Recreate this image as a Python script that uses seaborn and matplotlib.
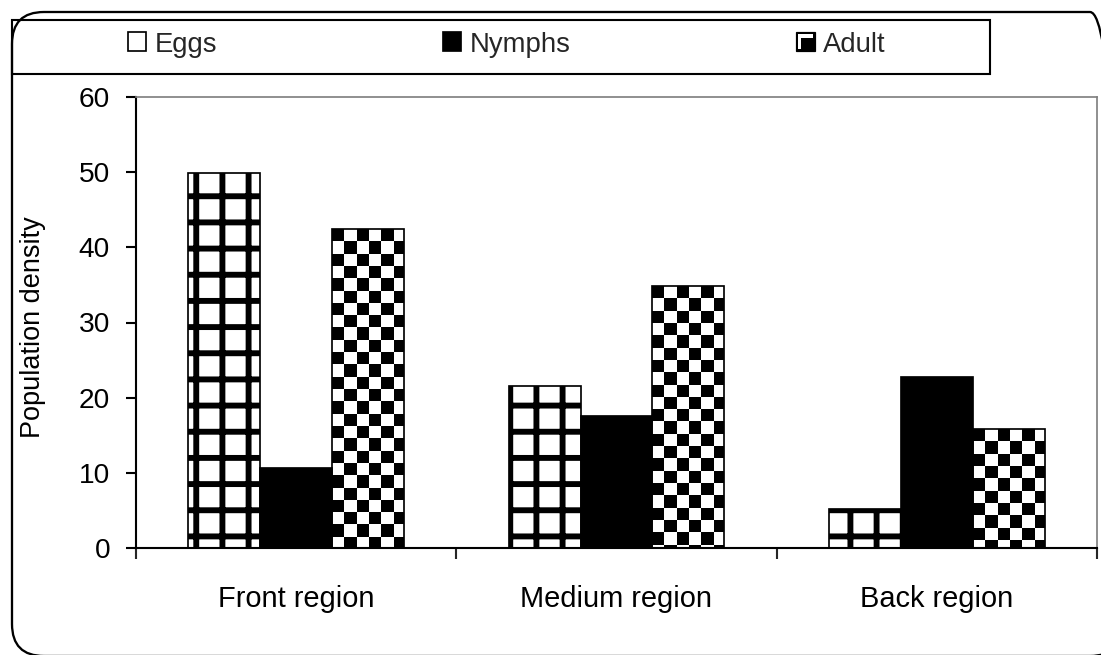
import numpy as np
import pandas as pd
import matplotlib
matplotlib.use("Agg")
import matplotlib.pyplot as plt
import seaborn as sns
from matplotlib.patches import Patch, Rectangle, FancyBboxPatch
from matplotlib.transforms import IdentityTransform
from matplotlib.legend_handler import HandlerBase

# Population density of each life stage by plant region
regions = ["Front region", "Medium region", "Back region"]
stages = ["Eggs", "Nymphs", "Adult"]
eggs = [49.9, 21.5, 5.2]
nymphs = [10.7, 17.6, 22.7]
adult = [42.4, 34.8, 15.8]
y_ticks = [0, 10, 20, 30, 40, 50, 60]
y_label = "Population density"

df = pd.DataFrame({
    "region": regions * 3,
    "stage": [s for s in stages for _ in regions],
    "density": eggs + nymphs + adult,
})

# Resolution sets the hatch cell size (one cell per inch)
DPI = 157
W, H = 1101, 655


def pt(px):
    """Convert a size in output pixels to points."""
    return px * 72.0 / DPI


sns.set_style("white")
plt.rcParams["font.family"] = ["Liberation Sans", "DejaVu Sans"]
plt.rcParams["hatch.color"] = "black"
plt.rcParams["hatch.linewidth"] = 2.7

fig = plt.figure(figsize=(W / DPI, H / DPI), dpi=DPI)
fig.patch.set_facecolor("white")

left, right, top, bottom = 136, 1097, 97, 548
ax = fig.add_axes([left / W, (H - bottom) / H, (right - left) / W, (bottom - top) / H])

palette = {"Eggs": "white", "Nymphs": "black", "Adult": "white"}
sns.barplot(data=df, x="region", y="density", hue="stage", order=regions,
            hue_order=stages, palette=palette, saturation=1, width=0.674,
            edgecolor="black", linewidth=pt(1.7), legend=False, ax=ax,
            errorbar=None)

ax.set_xlim(-0.5, 2.5)
ax.set_ylim(0, 60)
ax.set_autoscale_on(False)

# Grid hatch for eggs
for bar in ax.containers[0]:
    bar.set_hatch("+")

# Checkerboard texture for adults, clipped to each bar
sq = 12.3  # square side in pixels
p0 = ax.transData.transform((0, 0))
p1 = ax.transData.transform((1, 1))
sx, sy = p1[0] - p0[0], p1[1] - p0[1]
for bar in ax.containers[2]:
    x0, w, h = bar.get_x(), bar.get_width(), bar.get_height()
    cw, ch = sq / sx, sq / sy
    ncol = int(np.ceil(w / cw))
    nrow = int(np.ceil(h / ch))
    ii, jj = np.indices((nrow, ncol))
    tex = ((ii + jj) % 2).astype(float)
    im = ax.imshow(tex, cmap="gray", vmin=0, vmax=1, interpolation="nearest",
                   extent=[x0, x0 + ncol * cw, h - nrow * ch, h],
                   aspect="auto", zorder=0.9)
    im.set_clip_path(bar)
    bar.set_facecolor("none")

ax.set_xlim(-0.5, 2.5)
ax.set_ylim(0, 60)

# Axes styling
for side in ["left", "bottom"]:
    ax.spines[side].set_color("black")
    ax.spines[side].set_linewidth(pt(2.1))
for side in ["top", "right"]:
    ax.spines[side].set_color("#808080")
    ax.spines[side].set_linewidth(pt(1.7))

ax.set_yticks(y_ticks)
ax.tick_params(axis="y", which="major", direction="out", length=pt(10),
               width=pt(2.1), pad=pt(16), labelsize=pt(28.1), colors="black",
               left=True)
ax.set_xticks([-0.5, 0.5, 1.5, 2.5], minor=True)
ax.tick_params(axis="x", which="minor", direction="out", length=pt(11),
               width=pt(2.1), bottom=True)
ax.tick_params(axis="x", which="major", length=0, pad=pt(37),
               labelsize=pt(29), colors="black")
ax.set_xlabel("")
ax.set_ylabel(y_label, fontsize=pt(27.1), color="black")
ax.yaxis.set_label_coords(-0.094, 0.49)


# Legend marker for adults: dark square with a light corner
class AdultHandler(HandlerBase):
    def create_artists(self, legend, orig_handle, xdescent, ydescent,
                       width, height, fontsize, trans):
        x, y = -xdescent, -ydescent
        m = 0.1 * width
        t = 0.18 * width
        outer = Rectangle((x, y), width, height, fc="black", ec="black",
                          lw=pt(1.2), transform=trans)
        light = Rectangle((x + m, y + m), width - 2 * m, height - 2 * m,
                          fc="white", ec="none", transform=trans)
        inner = Rectangle((x + m + t, y + m), width - 2 * m - t,
                          height - 2 * m - t, fc="black", ec="none",
                          transform=trans)
        return [outer, light, inner]


h_eggs = Patch(facecolor="white", edgecolor="black", linewidth=pt(1.7))
h_nymphs = Patch(facecolor="black", edgecolor="black", linewidth=pt(1.7))
h_adult = Patch(facecolor="black", edgecolor="black")
fig.legend(handles=[h_eggs, h_nymphs, h_adult], labels=stages, ncol=3,
           loc="center left", bbox_to_anchor=(127.7 / W, (H - 44.5) / H),
           frameon=False, fontsize=pt(27.5), handlelength=0.68,
           handleheight=0.68, handletextpad=0.3, columnspacing=8.2,
           borderpad=0, borderaxespad=0,
           handler_map={h_adult: AdultHandler()})

# Legend box and rounded chart border (pixel coordinates)
fig.add_artist(Rectangle((12, H - 74), 978, 54, fc="none", ec="black",
                         lw=pt(2.1), transform=IdentityTransform()))
fig.add_artist(FancyBboxPatch((12, -1), 1110, H - 12 + 1,
                              boxstyle="round,pad=0,rounding_size=32",
                              fc="none", ec="black", lw=pt(2.3),
                              transform=IdentityTransform()))

fig.savefig("out.png", dpi=DPI)
